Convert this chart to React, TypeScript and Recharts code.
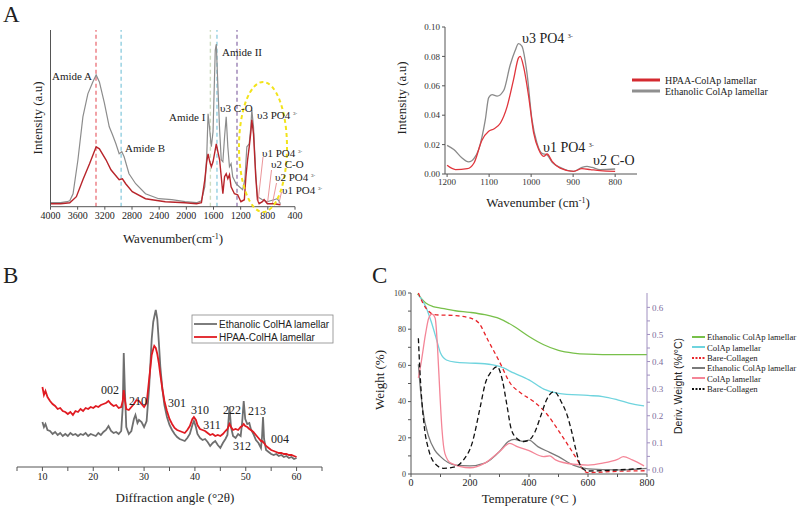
import React from "react";
import { LineChart, Line, XAxis, YAxis, ReferenceLine } from "recharts";

const SERIF = '"Liberation Serif", "Times New Roman", serif';
const SANS = '"Liberation Sans", Arial, sans-serif';

// ---- Panel A (left): full FTIR spectrum, [wavenumber, intensity]
const ftirEthanolic: [number, number][] = [
  [4000, 4], [3850, 4], [3760, 5], [3716, 6], [3668, 13], [3596, 47], [3523, 90], [3450, 113],
  [3377, 125], [3328, 132], [3280, 125], [3207, 104], [3135, 80], [3087, 72], [3037, 63],
  [2989, 53], [2950, 55], [2916, 50], [2844, 33], [2746, 23], [2601, 13], [2407, 8], [2214, 7],
  [2019, 5], [1850, 4], [1778, 6], [1728, 20], [1700, 50], [1680, 93], [1660, 80], [1632, 60],
  [1607, 75], [1574, 157], [1559, 163], [1535, 120], [1510, 77], [1486, 47], [1462, 45],
  [1437, 70], [1413, 90], [1389, 60], [1365, 40], [1341, 43], [1317, 30], [1268, 23], [1220, 20],
  [1171, 17], [1138, 27], [1109, 60], [1074, 63], [1050, 80], [1036, 97], [1011, 80], [978, 33],
  [953, 10], [880, 7], [807, 5], [760, 6], [710, 7], [662, 8], [630, 5], [614, 3],
];
const ftirHpaa: [number, number][] = [
  [4000, 3], [3850, 3], [3716, 4], [3619, 10], [3523, 27], [3425, 43], [3328, 60], [3280, 58],
  [3183, 47], [3110, 37], [3062, 33], [2989, 27], [2941, 28], [2893, 23], [2796, 15], [2601, 8],
  [2310, 5], [2019, 4], [1850, 3], [1778, 4], [1728, 27], [1700, 45], [1680, 53], [1655, 45],
  [1632, 40], [1607, 45], [1580, 55], [1559, 63], [1535, 55], [1510, 47], [1486, 30], [1462, 13],
  [1437, 30], [1413, 33], [1389, 28], [1365, 32], [1341, 20], [1292, 13], [1244, 12], [1196, 5],
  [1146, 7], [1123, 30], [1098, 47], [1074, 60], [1050, 75], [1036, 87], [1011, 73], [978, 30],
  [953, 7], [928, 3], [880, 5], [855, 7], [807, 3], [710, 3], [614, 2],
];
const ftirTicks = [4000, 3600, 3200, 2800, 2400, 2000, 1600, 1200, 800, 400];
const bandMarks = [
  { x: 3330, color: "#ec7a80" },
  { x: 2960, color: "#93cfe0" },
  { x: 1646, color: "#cfdcc0" },
  { x: 1549, color: "#93cfe0" },
  { x: 1254, color: "#9a80b4" },
];

// ---- Panel A (right): phosphate region zoom
const zoomEthanolic: [number, number][] = [
  [1200, 0.0195], [1184, 0.0166], [1165, 0.011], [1149, 0.0082], [1135, 0.011], [1125, 0.0166],
  [1109, 0.037], [1101, 0.052], [1093, 0.054], [1081, 0.053], [1065, 0.057], [1050, 0.074],
  [1038, 0.084], [1030, 0.0887], [1022, 0.087], [1010, 0.069], [998, 0.037], [986, 0.021],
  [974, 0.014], [962, 0.013], [950, 0.008], [931, 0.0045], [899, 0.0018], [879, 0.0045],
  [867, 0.0052], [855, 0.0045], [836, 0.003], [800, 0.0034],
];
const zoomHpaa: [number, number][] = [
  [1200, 0.0059], [1180, 0.003], [1152, 0.0036], [1136, 0.0075], [1117, 0.023], [1101, 0.029],
  [1089, 0.0306], [1073, 0.0347], [1057, 0.046], [1042, 0.064], [1030, 0.079], [1026, 0.08],
  [1018, 0.073], [1006, 0.053], [994, 0.028], [982, 0.0166], [970, 0.012], [962, 0.0136],
  [950, 0.0086], [931, 0.004], [899, 0.0018], [879, 0.0036], [859, 0.003], [836, 0.0023],
  [800, 0.0018],
];
const zoomTicksX = [1200, 1100, 1000, 900, 800];
const zoomTicksY = [0, 0.02, 0.04, 0.06, 0.08, 0.1];

// ---- Panel B: XRD, [2theta, counts]
const xrdEthanolic: [number, number][] = [
  [10, 45], [10.3, 40], [10.6, 43], [11, 37], [11.5, 36], [12, 33], [12.5, 35], [13, 32], [13.5, 34],
  [14, 31], [14.5, 33], [15, 31], [15.5, 34], [16, 32], [16.5, 33], [17, 31], [17.5, 33], [18, 32],
  [18.5, 34], [19, 31], [19.5, 33], [20, 32], [20.5, 31], [21, 34], [21.5, 32], [22, 35], [22.5, 37],
  [23, 41], [23.5, 36], [24, 34], [24.5, 35], [25, 33], [25.5, 36], [25.8, 60], [26, 114], [26.2, 80],
  [26.5, 40], [27, 33], [27.5, 36], [28, 48], [28.3, 52], [28.7, 44], [29, 47], [29.5, 45], [30, 40],
  [30.5, 46], [31, 80], [31.5, 128], [31.8, 145], [32, 150], [32.3, 157], [32.6, 148], [32.9, 125],
  [33.2, 100], [33.6, 78], [34, 62], [34.5, 50], [35, 42], [35.5, 37], [36, 33], [36.5, 30], [37, 28],
  [37.5, 27], [38, 26], [38.5, 29], [39, 33], [39.5, 42], [39.8, 46], [40.2, 40], [40.5, 33], [41, 29],
  [41.5, 27], [42, 28], [42.5, 25], [43, 21], [43.5, 24], [44, 26], [44.5, 22], [45, 19], [45.5, 24],
  [46, 28], [46.4, 32], [46.8, 60], [47.1, 40], [47.5, 31], [48, 29], [48.5, 33], [49, 31], [49.3, 45],
  [49.6, 66], [49.9, 48], [50.3, 43], [50.7, 44], [51, 38], [51.5, 33], [52, 27], [52.5, 24], [53, 19],
  [53.2, 30], [53.4, 50], [53.6, 28], [54, 17], [54.5, 15], [55, 13], [55.5, 12], [56, 13], [56.5, 11],
  [57, 12], [57.5, 10], [58, 11], [58.5, 9], [59, 10], [59.5, 8], [60, 9],
];
const xrdHpaa: [number, number][] = [
  [10, 80], [10.3, 72], [10.6, 76], [11, 70], [11.5, 66], [12, 63], [12.5, 61], [13, 58], [13.5, 59],
  [14, 56], [14.5, 55], [15, 53], [15.5, 55], [16, 52], [16.5, 56], [17, 55], [17.5, 58], [18, 56],
  [18.5, 59], [19, 58], [19.5, 60], [20, 59], [20.5, 61], [21, 60], [21.5, 62], [22, 63], [22.5, 64],
  [23, 66], [23.5, 63], [24, 61], [24.5, 62], [25, 59], [25.5, 60], [25.8, 66], [26, 77], [26.2, 68],
  [26.5, 58], [27, 57], [27.5, 60], [28, 63], [28.5, 67], [29, 66], [29.5, 63], [30, 60], [30.5, 64],
  [31, 88], [31.5, 112], [31.8, 118], [32, 121], [32.3, 119], [32.6, 113], [32.9, 104], [33.2, 92],
  [33.6, 78], [34, 66], [34.5, 56], [35, 48], [35.5, 43], [36, 39], [36.5, 37], [37, 36], [37.5, 35],
  [38, 34], [38.5, 37], [39, 41], [39.5, 48], [39.8, 50], [40.2, 47], [40.5, 42], [41, 38], [41.5, 37],
  [42, 36], [42.5, 34], [43, 32], [43.5, 33], [44, 31], [44.5, 32], [45, 31], [45.5, 33], [46, 36],
  [46.4, 38], [46.8, 43], [47.1, 40], [47.5, 37], [48, 38], [48.5, 37], [49, 40], [49.3, 41],
  [49.6, 43], [49.9, 41], [50.3, 40], [50.7, 38], [51, 37], [51.5, 35], [52, 32], [52.5, 29], [53, 26],
  [53.2, 26], [53.4, 25], [53.6, 24], [54, 21], [54.5, 19], [55, 17], [55.5, 16], [56, 15], [56.5, 14],
  [57, 14], [57.5, 13], [58, 13], [58.5, 12], [59, 12], [59.5, 11], [60, 10],
];
const xrdTicks = [5, 10, 15, 20, 25, 30, 35, 40, 45, 50, 55, 60, 65];

// ---- Panel C: TGA weight (%) and derivative (%/°C), [temperature, value]
const tgaEthanolic: [number, number][] = [
  [22, 99.5], [35, 97], [50, 94.5], [75, 92.5], [100, 91.7], [150, 90.2], [200, 89.3], [250, 88],
  [300, 85.8], [350, 81.5], [400, 76], [450, 71.4], [500, 68.3], [550, 66.8], [600, 66.2],
  [700, 65.9], [800, 65.9],
];
const tgaColAp: [number, number][] = [
  [25, 99], [50, 92.6], [70, 83.4], [90, 72.3], [100, 66.8], [120, 63], [150, 61.8], [200, 61.3],
  [250, 60.9], [300, 59.4], [350, 55.7], [400, 52], [450, 46.9], [500, 44.6], [600, 43.4],
  [650, 42.8], [700, 41], [750, 38.7], [790, 37.6],
];
const tgaCollagen: [number, number][] = [
  [25, 100], [40, 94.5], [60, 89.9], [80, 88], [150, 87.5], [200, 86.2], [230, 83.4], [260, 74.2],
  [300, 62], [337, 50], [370, 45], [416, 40], [461, 33], [500, 24], [540, 14], [563, 8], [585, 2],
  [600, 0.8], [700, 1.5], [800, 1.8],
];
const dtgEthanolic: [number, number][] = [
  [25, 0.39], [30, 0.32], [40, 0.22], [60, 0.123], [80, 0.074], [100, 0.049], [150, 0.018],
  [200, 0.015], [250, 0.025], [300, 0.068], [330, 0.105], [350, 0.113], [380, 0.105], [400, 0.11],
  [430, 0.086], [470, 0.065], [500, 0.049], [550, 0.018], [600, 0.004], [700, 0], [800, 0.006],
];
const dtgColAp: [number, number][] = [
  [25, 0.34], [35, 0.4], [49, 0.5], [60, 0.56], [71, 0.575], [82, 0.56], [90, 0.45], [98, 0.28],
  [105, 0.15], [115, 0.06], [135, 0.025], [200, 0.008], [250, 0.025], [300, 0.068], [335, 0.098],
  [360, 0.086], [400, 0.071], [450, 0.049], [470, 0.052], [490, 0.037], [550, 0.021], [600, 0.018],
  [650, 0.025], [700, 0.039], [720, 0.049], [750, 0.037], [790, 0.015],
];
const dtgCollagen: [number, number][] = [
  [25, 0.486], [30, 0.37], [45, 0.16], [60, 0.074], [80, 0.025], [110, 0.006], [150, 0.012],
  [178, 0.037], [207, 0.098], [235, 0.234], [252, 0.32], [270, 0.36], [292, 0.381], [310, 0.33],
  [325, 0.24], [340, 0.15], [360, 0.115], [380, 0.105], [400, 0.11], [420, 0.14], [440, 0.2],
  [460, 0.26], [485, 0.289], [510, 0.25], [530, 0.2], [545, 0.14], [560, 0.07], [575, 0.015],
  [600, -0.004], [700, 0], [790, 0.006],
];
const tempTicks = [0, 100, 200, 300, 400, 500, 600, 700, 800];
const weightTicks = [0, 10, 20, 30, 40, 50, 60, 70, 80, 90, 100];
const derivTicks = [0, 0.05, 0.1, 0.15, 0.2, 0.25, 0.3, 0.35, 0.4, 0.45, 0.5, 0.55, 0.6];

const pts = (arr: [number, number][]) => arr.map(([x, y]) => ({ x, y }));

const Sup = ({ t, size, dy }: { t: string; size: number; dy: number }) => (
  <tspan fontSize={size} dy={-dy}>{t}</tspan>
);

function Abs({ left, top, children }: { left: number; top: number; children: React.ReactNode }) {
  return <div style={{ position: "absolute", left, top }}>{children}</div>;
}

export default function App() {
  const axisGray = "#555";
  return (
    <div style={{ position: "absolute", left: 0, top: 0, width: 800, height: 509, background: "#fff", overflow: "hidden" }}>
      {/* A left */}
      <Abs left={0} top={0}>
        <LineChart width={320} height={250} margin={{ top: 30, right: 25, left: 0, bottom: 0 }}>
          <XAxis type="number" dataKey="x" domain={[400, 4000]} reversed ticks={ftirTicks} interval={0}
            height={43.3} tickSize={3} axisLine={{ stroke: axisGray }} tickLine={{ stroke: axisGray }}
            tick={{ fontSize: 10, fill: "#222", fontFamily: SERIF }} />
          <YAxis type="number" domain={[0, 177]} width={50.5} tick={false} tickLine={false} axisLine={{ stroke: axisGray }} />
          {bandMarks.map((b) => (
            <ReferenceLine key={b.x} x={b.x} stroke={b.color} strokeWidth={1.4} strokeDasharray="4 3" />
          ))}
          <Line data={pts(ftirEthanolic)} dataKey="y" stroke="#8c8c8c" strokeWidth={1.2} dot={false} type="linear" isAnimationActive={false} />
          <Line data={pts(ftirHpaa)} dataKey="y" stroke="#b8252b" strokeWidth={1.4} dot={false} type="linear" isAnimationActive={false} />
        </LineChart>
      </Abs>

      {/* A right */}
      <Abs left={385} top={0}>
        <LineChart width={260} height={215} margin={{ top: 27, right: 8, left: 0, bottom: 0 }}>
          <XAxis type="number" dataKey="x" domain={[748, 1205]} reversed ticks={zoomTicksX} interval={0}
            height={41} tickSize={3} axisLine={{ stroke: axisGray }} tickLine={{ stroke: axisGray }}
            tick={{ fontSize: 9, fill: "#333", fontFamily: SERIF }} />
          <YAxis type="number" domain={[0, 0.1]} ticks={zoomTicksY} interval={0} width={60} tickSize={3}
            tickFormatter={(v: number) => v.toFixed(2)} axisLine={{ stroke: axisGray }} tickLine={{ stroke: axisGray }}
            tick={{ fontSize: 9, fill: "#333", fontFamily: SERIF }} />
          <Line data={pts(zoomEthanolic)} dataKey="y" stroke="#8a8a8a" strokeWidth={1.3} dot={false} type="monotone" isAnimationActive={false} />
          <Line data={pts(zoomHpaa)} dataKey="y" stroke="#e0353c" strokeWidth={1.3} dot={false} type="monotone" isAnimationActive={false} />
        </LineChart>
      </Abs>

      {/* B */}
      <Abs left={0} top={250}>
        <LineChart width={340} height={259} margin={{ top: 57, right: 18, left: 17, bottom: 0 }}>
          <XAxis type="number" dataKey="x" domain={[5, 65]} ticks={xrdTicks} interval={0} height={42} tickSize={4}
            tickFormatter={(v: number) => (v % 10 === 0 ? String(v) : "")}
            axisLine={{ stroke: axisGray }} tickLine={{ stroke: axisGray }}
            tick={{ fontSize: 10, fill: "#222", fontFamily: SERIF }} />
          <YAxis type="number" domain={[0, 160]} hide />
          <Line data={pts(xrdEthanolic)} dataKey="y" stroke="#6f6f6f" strokeWidth={1.8} dot={false} type="linear" isAnimationActive={false} />
          <Line data={pts(xrdHpaa)} dataKey="y" stroke="#e01b22" strokeWidth={1.8} dot={false} type="linear" isAnimationActive={false} />
        </LineChart>
      </Abs>

      {/* C */}
      <Abs left={360} top={260}>
        <LineChart width={330} height={249} margin={{ top: 33, right: 0, left: 0, bottom: 0 }}>
          <XAxis type="number" dataKey="x" domain={[0, 800]} ticks={tempTicks} interval={0} height={35} tickSize={3}
            tickFormatter={(v: number) => (v % 200 === 0 ? String(v) : "")}
            axisLine={{ stroke: axisGray }} tickLine={{ stroke: axisGray }}
            tick={{ fontSize: 10, fill: "#222", fontFamily: SERIF }} />
          <YAxis yAxisId="w" type="number" domain={[0, 100]} ticks={weightTicks} interval={0} width={51} tickSize={3}
            tickFormatter={(v: number) => (v % 20 === 0 ? String(v) : "")}
            axisLine={{ stroke: axisGray }} tickLine={{ stroke: axisGray }}
            tick={{ fontSize: 8, fill: "#333", fontFamily: SERIF }} />
          <YAxis yAxisId="d" orientation="right" type="number" domain={[-0.015, 0.653]} ticks={derivTicks} interval={0}
            width={43} tickSize={3}
            tickFormatter={(v: number) => (Math.round(v * 100) % 10 === 0 ? v.toFixed(1) : "")}
            axisLine={{ stroke: "#a090c0" }} tickLine={{ stroke: "#a090c0" }}
            tick={{ fontSize: 9, fill: "#7c6c9c", fontFamily: SERIF }} />
          <Line yAxisId="w" data={pts(tgaEthanolic)} dataKey="y" stroke="#78c04a" strokeWidth={1.3} dot={false} type="monotone" isAnimationActive={false} />
          <Line yAxisId="w" data={pts(tgaColAp)} dataKey="y" stroke="#6fd4de" strokeWidth={1.3} dot={false} type="monotone" isAnimationActive={false} />
          <Line yAxisId="w" data={pts(tgaCollagen)} dataKey="y" stroke="#e8262b" strokeWidth={1.3} strokeDasharray="4 3" dot={false} type="monotone" isAnimationActive={false} />
          <Line yAxisId="d" data={pts(dtgEthanolic)} dataKey="y" stroke="#7a7a7a" strokeWidth={1.3} dot={false} type="monotone" isAnimationActive={false} />
          <Line yAxisId="d" data={pts(dtgColAp)} dataKey="y" stroke="#f48597" strokeWidth={1.3} dot={false} type="monotone" isAnimationActive={false} />
          <Line yAxisId="d" data={pts(dtgCollagen)} dataKey="y" stroke="#111" strokeWidth={1.3} strokeDasharray="5 3" dot={false} type="monotone" isAnimationActive={false} />
        </LineChart>
      </Abs>

      {/* annotations, titles, legends */}
      <svg width={800} height={509} style={{ position: "absolute", left: 0, top: 0, pointerEvents: "none" }}
        fontFamily={SERIF} fill="#222">
        {/* panel letters */}
        <text x={3} y={22} fontSize={23}>A</text>
        <text x={3} y={283} fontSize={23}>B</text>
        <text x={372} y={283} fontSize={23}>C</text>

        {/* A left */}
        <ellipse cx={263} cy={147} rx={24} ry={65} fill="none" stroke="#f2e31b" strokeWidth={2} strokeDasharray="4 3" />
        <g stroke="#e8898d" strokeWidth={0.9}>
          <line x1={263} y1={157} x2={258} y2={202} />
          <line x1={271.5} y1={170} x2={267.5} y2={203} />
          <line x1={276.5} y1={183} x2={272.5} y2={203} />
          <line x1={281.5} y1={192} x2={279} y2={203} />
        </g>
        <g fontSize={11}>
          <text x={52} y={80}>Amide A</text>
          <text x={125} y={152}>Amide B</text>
          <text x={169} y={121}>Amide I</text>
          <text x={222} y={56}>Amide II</text>
          <text x={220} y={112}>υ3 C-O</text>
          <text x={257} y={119}>υ3 PO4 <Sup t="3-" size={5} dy={4} /></text>
          <text x={262} y={157}>υ1 PO4 <Sup t="3-" size={5} dy={4} /></text>
          <text x={271} y={168}>υ2 C-O</text>
          <text x={275} y={181}>υ2 PO4 <Sup t="3-" size={5} dy={4} /></text>
          <text x={282} y={194}>υ1 PO4 <Sup t="3-" size={5} dy={4} /></text>
        </g>
        <text x={0} y={0} fontSize={13} textAnchor="middle" transform="translate(42,118) rotate(-90)">Intensity (a.u)</text>
        <text x={173} y={243} fontSize={13} textAnchor="middle">Wavenumber(cm<Sup t="-1" size={8} dy={4} /><tspan dy={4}>)</tspan></text>

        {/* A right */}
        <text x={0} y={0} fontSize={13} textAnchor="middle" transform="translate(406,98) rotate(-90)">Intensity (a.u)</text>
        <text x={538} y={207} fontSize={13} textAnchor="middle">Wavenumber (cm<Sup t="-1" size={8} dy={4} /><tspan dy={4}>)</tspan></text>
        <g fontSize={14}>
          <text x={522} y={43}>υ3 PO4 <Sup t="3-" size={6} dy={5} /></text>
          <text x={543} y={152}>υ1 PO4 <Sup t="3-" size={6} dy={5} /></text>
          <text x={593} y={165}>υ2 C-O</text>
        </g>
        <line x1={632} y1={80} x2={660} y2={80} stroke="#d42a30" strokeWidth={3} />
        <line x1={632} y1={91} x2={660} y2={91} stroke="#8f8f8f" strokeWidth={3} />
        <g fontSize={10}>
          <text x={665} y={84}>HPAA-ColAp lamellar</text>
          <text x={665} y={95}>Ethanolic ColAp lamellar</text>
        </g>

        {/* B */}
        <rect x={192} y={315} width={141} height={28} fill="#fff" stroke="#888" strokeWidth={0.8} />
        <line x1={194} y1={324} x2={217} y2={324} stroke="#6f6f6f" strokeWidth={1.8} />
        <line x1={194} y1={337} x2={217} y2={337} stroke="#e01b22" strokeWidth={1.8} />
        <g fontSize={10} fontFamily={SANS}>
          <text x={219} y={328}>Ethanolic ColHA lamellar</text>
          <text x={219} y={341}>HPAA-ColHA lamellar</text>
        </g>
        <g fontSize={12}>
          <text x={110} y={394} textAnchor="middle">002</text>
          <text x={138} y={405} textAnchor="middle">210</text>
          <text x={177} y={407} textAnchor="middle">301</text>
          <text x={200} y={414} textAnchor="middle">310</text>
          <text x={212} y={429} textAnchor="middle">311</text>
          <text x={232} y={414} textAnchor="middle">222</text>
          <text x={257} y={415} textAnchor="middle">213</text>
          <text x={242} y={450} textAnchor="middle">312</text>
          <text x={280} y={443} textAnchor="middle">004</text>
        </g>
        <text x={175} y={502} fontSize={13} textAnchor="middle">Diffraction angle (°2θ)</text>

        {/* C */}
        <text x={0} y={0} fontSize={13} textAnchor="middle" transform="translate(384,380) rotate(-90)">Weight (%)</text>
        <text x={529} y={503} fontSize={13} textAnchor="middle">Temperature (°C )</text>
        <text x={0} y={0} fontSize={10.5} fontFamily={SANS} textAnchor="middle" transform="translate(682,386) rotate(-90)">Deriv. Weight (%/°C)</text>
        <g strokeWidth={2}>
          <line x1={692} y1={337} x2={705} y2={337} stroke="#78c04a" />
          <line x1={692} y1={347} x2={705} y2={347} stroke="#6fd4de" />
          <line x1={692} y1={358} x2={705} y2={358} stroke="#e8262b" strokeDasharray="2 1.5" />
          <line x1={692} y1={368} x2={705} y2={368} stroke="#7a7a7a" />
          <line x1={692} y1={378} x2={705} y2={378} stroke="#f48597" />
          <line x1={692} y1={389} x2={705} y2={389} stroke="#111" strokeDasharray="2 1.5" />
        </g>
        <g fontSize={8.7}>
          <text x={707} y={340}>Ethanolic ColAp lamellar</text>
          <text x={707} y={350.5}>ColAp lamellar</text>
          <text x={707} y={361}>Bare-Collagen</text>
          <text x={707} y={371}>Ethanolic ColAp lamellar</text>
          <text x={707} y={381.5}>ColAp lamellar</text>
          <text x={707} y={392}>Bare-Collagen</text>
        </g>
      </svg>
    </div>
  );
}
